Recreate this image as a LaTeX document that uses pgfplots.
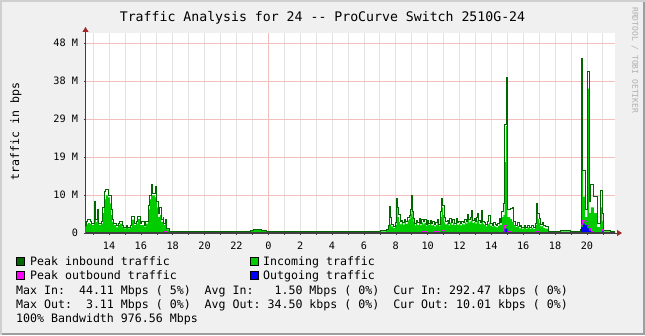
\documentclass[border=0pt]{standalone}
\usepackage{fontspec}
\setmonofont{DejaVu Sans Mono}
\renewcommand{\familydefault}{\ttdefault}
\usepackage{pgfplots}
\usepackage{pgfplotstable}
\pgfplotsset{compat=1.18}
\usetikzlibrary{arrows.meta}
\definecolor{bg}{HTML}{F0F0F0}
\definecolor{shadea}{HTML}{CFCFCF}
\definecolor{shadeb}{HTML}{9E9E9E}
\definecolor{gridc}{HTML}{E2E2E2}
\definecolor{mgridc}{HTML}{F2BEBE}
\definecolor{axisc}{HTML}{404040}
\definecolor{arrowc}{HTML}{A02828}
\definecolor{pkin}{HTML}{006600}
\definecolor{avin}{HTML}{00CC00}
\definecolor{pkout}{HTML}{FF00FF}
\definecolor{avout}{HTML}{0000FF}
\definecolor{wm}{HTML}{B0B0B0}
\newcommand{\axisfont}{\fontsize{10.2}{12}\selectfont}
\newcommand{\legfont}{\fontsize{11.6}{13}\selectfont}
\newcommand{\titfont}{\fontsize{13.2}{15}\selectfont}

% incoming traffic: h = hours relative to midnight, pk = peak (Mbps), av = average (Mbps)
\pgfplotstableread{
h pk av
-11.48 2.0 1.6
-11.44 2.8 2.2
-11.32 3.4 2.5
-11.19 3.0 2.3
-11.07 2.5 2.0
-10.94 8.0 5.0
-10.82 3.5 2.8
-10.75 6.0 3.5
-10.63 2.5 2.0
-10.50 3.0 2.4
-10.38 6.5 5.0
-10.31 10.5 8.5
-10.19 11.0 9.5
-10.06 9.5 9.0
-9.94 9.5 7.5
-9.87 6.0 4.5
-9.81 3.5 2.8
-9.69 2.5 2.0
-9.56 1.8 1.4
-9.43 2.5 2.0
-9.31 3.0 2.4
-9.18 2.0 1.6
-9.06 1.5 1.2
-8.93 2.0 1.6
-8.81 1.5 1.2
-8.68 1.8 1.4
-8.56 4.2 3.4
-8.43 2.5 2.0
-8.30 3.0 2.4
-8.18 4.2 3.6
-8.05 2.5 2.0
-7.93 3.0 2.0
-7.80 2.0 1.6
-7.68 3.0 2.4
-7.55 7.0 6.0
-7.43 9.5 8.5
-7.36 12.2 9.5
-7.24 10.0 9.5
-7.11 11.8 9.0
-6.99 8.0 6.5
-6.92 5.0 4.0
-6.80 6.5 4.5
-6.73 3.5 2.8
-6.61 4.0 3.5
-6.55 2.5 2.0
-6.48 3.5 3.0
-6.36 1.2 0.9
-6.23 0.5 0.3
-6.11 0.4 0.3
-5.55 0.5 0.3
-4.92 0.4 0.3
-4.29 0.4 0.25
-3.66 0.5 0.3
-3.03 0.5 0.3
-2.40 0.4 0.3
-1.78 0.3 0.2
-1.15 0.6 0.5
-0.90 0.8 0.7
-0.65 0.9 0.8
-0.40 0.6 0.5
-0.14 0.4 0.3
0.73 0.3 0.2
1.36 0.4 0.3
1.99 0.4 0.3
2.62 0.3 0.2
3.87 0.4 0.3
5.13 0.3 0.2
6.07 0.4 0.3
6.76 0.5 0.3
7.01 0.6 0.4
7.39 1.0 0.7
7.52 2.0 1.5
7.58 6.6 4.2
7.65 4.0 2.2
7.71 2.2 1.7
7.83 1.6 1.3
7.96 2.6 2.0
8.05 8.8 7.0
8.11 6.5 4.0
8.20 4.7 2.8
8.27 2.8 2.2
8.36 3.2 2.6
8.45 2.6 2.1
8.55 3.4 2.8
8.64 2.8 2.3
8.74 4.0 3.2
8.83 4.5 3.6
8.92 6.0 4.8
8.99 9.6 7.1
9.05 5.5 4.0
9.12 3.6 2.8
9.20 2.4 1.9
9.27 3.2 2.5
9.36 2.6 2.0
9.46 3.6 2.8
9.55 2.4 1.9
9.62 3.4 2.7
9.71 2.8 2.2
9.80 3.3 2.6
9.90 2.2 1.8
9.97 3.2 2.4
10.06 2.5 2.0
10.15 3.2 2.5
10.24 2.4 1.9
10.33 2.8 2.1
10.42 2.2 1.7
10.52 2.6 2.0
10.61 3.5 2.7
10.71 2.2 1.8
10.80 5.5 4.0
10.87 8.8 6.5
10.96 7.0 4.5
11.05 4.0 2.6
11.12 2.8 2.2
11.22 3.2 2.5
11.31 2.4 1.9
11.40 3.6 2.6
11.50 2.6 2.0
11.59 3.4 2.6
11.68 2.5 2.0
11.78 3.6 2.6
11.87 2.6 2.0
11.96 3.0 2.3
12.06 2.4 1.9
12.15 3.0 2.4
12.24 2.7 2.1
12.34 3.5 2.7
12.43 3.0 2.4
12.50 4.7 3.3
12.58 3.4 2.7
12.68 4.0 3.0
12.75 5.8 3.8
12.82 3.2 2.5
12.91 3.6 2.8
13.00 3.0 2.4
13.07 4.0 3.0
13.13 5.0 3.4
13.22 3.2 2.4
13.31 2.7 2.2
13.38 5.8 3.0
13.47 3.0 2.3
13.56 2.6 2.0
13.65 2.2 1.7
13.74 3.0 2.2
13.85 4.5 2.6
13.93 2.4 1.8
14.04 2.0 1.6
14.13 2.6 1.8
14.23 2.2 1.6
14.32 1.8 1.4
14.41 2.4 1.8
14.50 3.6 2.6
14.57 2.6 2.0
14.64 5.4 4.0
14.76 7.5 4.5
14.83 27.3 18.0
14.92 39.3 27.0
15.01 6.0 4.0
15.17 6.2 3.6
15.30 6.4 2.8
15.41 3.0 2.0
15.52 2.0 1.5
15.63 2.6 1.8
15.74 1.6 1.2
15.85 2.0 1.5
15.92 1.4 1.1
16.05 1.8 1.3
16.17 1.4 1.1
16.27 2.0 1.4
16.40 1.5 1.1
16.52 1.8 1.3
16.62 1.3 1.0
16.75 2.5 2.0
16.84 7.5 5.5
16.92 5.0 3.5
16.99 3.6 2.5
17.08 2.2 1.7
17.18 2.6 1.8
17.27 1.8 1.3
17.37 1.6 1.1
17.56 0.5 0.3
18.31 0.6 0.4
18.94 0.4 0.3
19.57 0.8 0.5
19.63 44.1 34.9
19.75 15.9 9.2
19.88 6.0 4.0
20.02 40.9 36.5
20.13 8.0 5.0
20.24 12.3 6.5
20.44 9.2 5.0
20.63 2.5 1.5
20.82 10.7 6.5
20.95 5.0 3.0
21.04 0.6 0.4
21.45 0.5 0.3
21.76 0.5 0.3
}\tin

% outgoing traffic
\pgfplotstableread{
h pk av
-11.48 0.01 0.01
-6.55 0.40 0.20
-6.36 0.01 0.01
9.68 0.50 0.20
9.93 0.01 0.01
10.46 0.50 0.20
10.71 0.01 0.01
10.87 0.60 0.30
11.09 0.01 0.01
14.76 0.40 0.20
14.83 1.80 1.10
15.01 0.30 0.10
15.17 0.01 0.01
16.84 0.50 0.30
16.99 0.01 0.01
19.57 0.20 0.10
19.63 2.20 1.50
19.75 3.10 2.40
19.88 2.80 2.00
20.02 2.00 1.20
20.13 1.20 0.60
20.24 0.50 0.20
20.44 0.20 0.10
20.95 0.80 0.40
21.04 0.01 0.01
21.76 0.01 0.01
}\tout

\begin{document}
\begin{tikzpicture}[x=1pt,y=1pt]
\useasboundingbox (0,0) rectangle (645,335);
\fill[bg] (0,0) rectangle (645,335);
\fill[shadea] (0,0) rectangle (2,335);
\fill[shadea] (0,333) rectangle (645,335);
\fill[shadeb] (643,0) rectangle (645,333);
\fill[shadeb] (2,0) rectangle (645,2);

\begin{axis}[
  at={(85.5pt,102pt)}, anchor=south west,
  scale only axis, width=529.5pt, height=200pt,
  xmin=-11.475, xmax=21.76, ymin=0, ymax=50.53,
  axis background/.style={fill=white},
  axis lines=left,
  axis line style={draw=axisc, line width=0.8pt},
  x axis line style={-{Triangle[length=5pt,width=6pt,color=arrowc]}, shorten >=-7pt},
  y axis line style={-{Triangle[length=5pt,width=6pt,color=arrowc]}, shorten >=-6pt},
  xtick={-10,-8,...,20},
  xticklabels={14,16,18,20,22,0,2,4,6,8,10,12,14,16,18,20},
  minor xtick={-11,-10,...,21},
  xminorgrids,
  minor grid style={color=gridc, line width=0.8pt},
  extra x ticks={0},
  extra x tick labels={},
  extra x tick style={grid=major, major grid style={color=mgridc, line width=0.8pt}},
  ytick={0,9.6,19.2,28.8,38.4,48},
  yticklabels={0,10 M,19 M,29 M,38 M,48 M},
  ymajorgrids,
  major grid style={color=mgridc, line width=0.8pt},
  tick align=outside,
  major tick length=2pt, minor tick length=2pt,
  tick style={color=axisc, line width=0.5pt},
  xticklabel style={font=\axisfont, anchor=base, yshift=-14pt},
  yticklabel style={font=\axisfont, anchor=east, xshift=-2pt},
  clip=false,
]
\addplot[const plot, fill=avin, draw=none] table[x=h,y=av]{\tin} \closedcycle;
\addplot[const plot, draw=pkin, line width=1pt] table[x=h,y=pk]{\tin};
\addplot[const plot, draw=pkout, line width=1pt] table[x=h,y=pk]{\tout};
\addplot[const plot, fill=avout, draw=none] table[x=h,y=av]{\tout} \closedcycle;
% redraw the time axis base line over the data, as rrdtool does
\draw[axisc, line width=1.2pt] (axis cs:-11.475,0) -- (axis cs:21.76,0);
\end{axis}

% title, axis label, watermark
\node[anchor=base, inner sep=0pt, font=\titfont] at (322.5,313) {Traffic Analysis for 24 -{}- ProCurve Switch 2510G-24};
\node[rotate=90, anchor=center, inner sep=0pt, font=\legfont] at (16,203.5) {traffic in bps};
\node[rotate=-90, anchor=west, inner sep=0pt, font=\fontsize{8}{9}\selectfont, text=wm] at (635,328) {RRDTOOL / TOBI OETIKER};

% legend
\filldraw[fill=pkin, draw=black, line width=0.6pt] (16.5,69.5) rectangle (24.5,77.5);
\filldraw[fill=avin, draw=black, line width=0.6pt] (250,69.5) rectangle (258,77.5);
\filldraw[fill=pkout, draw=black, line width=0.6pt] (16.5,55.5) rectangle (24.5,63.5);
\filldraw[fill=avout, draw=black, line width=0.6pt] (250,55.5) rectangle (258,63.5);
\node[anchor=base west, inner sep=0pt, font=\legfont] at (30,69.5) {Peak inbound traffic};
\node[anchor=base west, inner sep=0pt, font=\legfont] at (263,69.5) {Incoming traffic};
\node[anchor=base west, inner sep=0pt, font=\legfont] at (30,55.5) {Peak outbound traffic};
\node[anchor=base west, inner sep=0pt, font=\legfont] at (263,55.5) {Outgoing traffic};
\node[anchor=base west, inner sep=0pt, font=\legfont] at (16,41) {Max In:\ \ 44.11 Mbps ( 5\%)\ \ Avg In:\ \ \ 1.50 Mbps ( 0\%)\ \ Cur In: 292.47 kbps ( 0\%)};
\node[anchor=base west, inner sep=0pt, font=\legfont] at (16,27) {Max Out:\ \ 3.11 Mbps ( 0\%)\ \ Avg Out: 34.50 kbps ( 0\%)\ \ Cur Out: 10.01 kbps ( 0\%)};
\node[anchor=base west, inner sep=0pt, font=\legfont] at (16,13) {100\% Bandwidth 976.56 Mbps};
\end{tikzpicture}
\end{document}
